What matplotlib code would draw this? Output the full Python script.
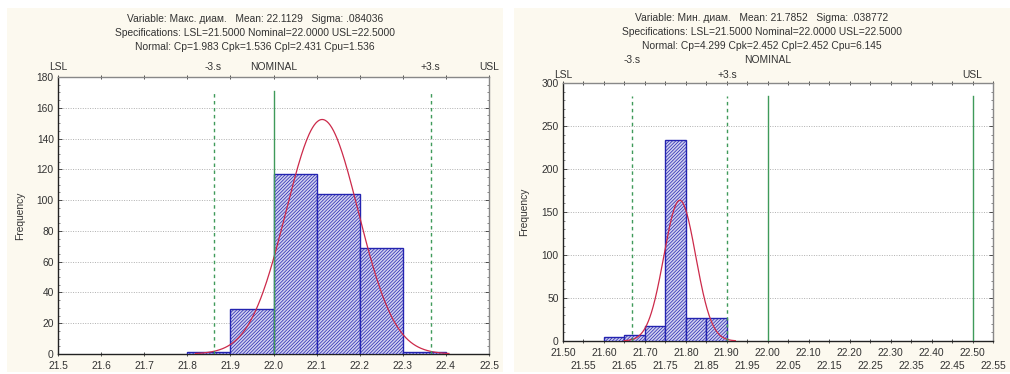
import numpy as np
import matplotlib
matplotlib.use("Agg")
import matplotlib.pyplot as plt
from matplotlib.patches import Rectangle
import matplotlib.transforms as mtransforms

plt.rcParams['font.family'] = ['Liberation Sans', 'DejaVu Sans']
plt.rcParams['hatch.linewidth'] = 0.5
plt.rcParams['hatch.color'] = '#2a2a9a'

# ---------------- data ----------------
# Left chart: Макс. диам.
left_bin_edges = [21.8, 21.9, 22.0, 22.1, 22.2, 22.3, 22.4]
left_counts = [1, 29, 117, 104, 69, 1]
left_mean = 22.1129
left_sigma = 0.084036
left_title = ["Variable: Макс. диам.   Mean: 22.1129   Sigma: .084036",
              "Specifications: LSL=21.5000 Nominal=22.0000 USL=22.5000",
              "Normal: Cp=1.983 Cpk=1.536 Cpl=2.431 Cpu=1.536"]
left_xticks = [21.5, 21.6, 21.7, 21.8, 21.9, 22.0, 22.1, 22.2, 22.3, 22.4, 22.5]
left_yticks = [0, 20, 40, 60, 80, 100, 120, 140, 160, 180]

# Right chart: Мин. диам.
right_bin_edges = [21.60, 21.65, 21.70, 21.75, 21.80, 21.85, 21.90]
right_counts = [5, 7, 18, 234, 27, 27]
right_mean = 21.7852
right_sigma = 0.038772
right_title = ["Variable: Мин. диам.   Mean: 21.7852   Sigma: .038772",
               "Specifications: LSL=21.5000 Nominal=22.0000 USL=22.5000",
               "Normal: Cp=4.299 Cpk=2.452 Cpl=2.452 Cpu=6.145"]
right_xticks_row1 = [21.50, 21.60, 21.70, 21.80, 21.90, 22.00, 22.10, 22.20, 22.30, 22.40, 22.50]
right_xticks_row2 = [21.55, 21.65, 21.75, 21.85, 21.95, 22.05, 22.15, 22.25, 22.35, 22.45, 22.55]
right_yticks = [0, 50, 100, 150, 200, 250, 300]

LSL, NOMINAL, USL = 21.5, 22.0, 22.5

# ---------------- figure ----------------
W, H = 1010, 374
fig = plt.figure(figsize=(W / 100, H / 100), dpi=100, facecolor='white')

BG = '#fcf9ef'
TXT = '#333333'
GREEN = '#3f9a5a'
RED = '#cc2a4a'
EDGE = '#2424b0'
FACE = '#cfcfee'
FS = 7.4


def px_rect(x0, y0, x1, y1):
    return [x0 / W, 1 - y1 / H, (x1 - x0) / W, (y1 - y0) / H]


# panel backgrounds
for (x0, x1) in [(7, 503), (514, 1010)]:
    r = px_rect(x0, 8, x1, 372)
    fig.patches.append(Rectangle((r[0], r[1]), r[2], r[3], transform=fig.transFigure,
                                 facecolor=BG, edgecolor='none', zorder=-10))


def draw(ax, edges, counts, mean, sigma, ymax, yticks, ymin_minor, xlim,
         title_lines, title_cx, title_ys, label_rows, ylabel_x):
    ax.set_facecolor('white')
    widths = np.diff(edges)
    ax.bar(edges[:-1], counts, width=widths, align='edge', facecolor=FACE,
           edgecolor=EDGE, linewidth=1.0, hatch='//////////', zorder=3)
    # normal curve
    xs = np.linspace(mean - 3.5 * sigma, mean + 3.5 * sigma, 300)
    n = sum(counts)
    bw = widths[0]
    ys = n * bw / (sigma * np.sqrt(2 * np.pi)) * np.exp(-0.5 * ((xs - mean) / sigma) ** 2)
    ax.plot(xs, ys, color=RED, lw=0.9, zorder=4)
    # spec lines (those on the frame edges are hidden by the frame)
    top = 0.95 * ymax
    for v, ls in [(mean - 3 * sigma, (0, (2.5, 2.5))), (mean + 3 * sigma, (0, (2.5, 2.5))),
                  (NOMINAL, '-'), (USL, '-'), (LSL, '-')]:
        if abs(v - xlim[0]) < 1e-9 or abs(v - xlim[1]) < 1e-9:
            continue
        ax.plot([v, v], [0, top], color=GREEN, lw=1.0, linestyle=ls, zorder=5)
    ax.set_xlim(*xlim)
    ax.set_ylim(0, ymax)
    ax.set_yticks(yticks)
    ax.set_yticks(np.arange(0, ymax + 0.001, ymin_minor), minor=True)
    ax.yaxis.grid(True, which='major', color='#b0b0b0', linestyle=(0, (1, 1.5)), lw=0.7)
    ax.set_axisbelow(True)
    ax.tick_params(axis='y', which='major', direction='in', length=3, left=True, right=True,
                   labelsize=FS, colors=TXT, pad=3, width=0.6)
    ax.tick_params(axis='y', which='minor', direction='in', length=1.5, left=True, right=True,
                   width=0.5, color='#555555')
    for s in ['left', 'bottom']:
        ax.spines[s].set_color('#222222')
        ax.spines[s].set_linewidth(1.0)
    for s in ['top', 'right']:
        ax.spines[s].set_color('#888888')
        ax.spines[s].set_linewidth(1.0)
    # titles
    for line, y in zip(title_lines, title_ys):
        fig.text(title_cx / W, 1 - y / H, line, ha='center', va='center', fontsize=FS,
                 color=TXT)
    # spec labels above plot
    trans = mtransforms.blended_transform_factory(ax.transData, fig.transFigure)
    for (x, txt, y) in label_rows:
        ax.text(x, 1 - y / H, txt, transform=trans, ha='center', va='center',
                fontsize=FS, color=TXT, clip_on=False)
    pos = ax.get_position()
    fig.text(ylabel_x / W, (pos.y0 + pos.y1) / 2, 'Frequency',
             rotation=90, ha='center', va='center', fontsize=FS, color=TXT)


axL = fig.add_axes(px_rect(58, 77, 489, 354))
draw(axL, left_bin_edges, left_counts, left_mean, left_sigma, 180, left_yticks, 5,
     (21.5, 22.5), left_title, 255, [19, 33, 47],
     [(LSL, 'LSL', 67), (left_mean - 3 * left_sigma, '-3.s', 67), (NOMINAL, 'NOMINAL', 67),
      (left_mean + 3 * left_sigma, '+3.s', 67), (USL, 'USL', 67)], 20)
axL.set_xticks(left_xticks)
axL.set_xticklabels([f"{v:.1f}" for v in left_xticks])
axL.tick_params(axis='x', which='major', direction='inout', length=3, top=True,
                bottom=True, labelsize=FS, colors=TXT, pad=3.5, width=0.6)

axR = fig.add_axes(px_rect(563, 83, 993, 341))
draw(axR, right_bin_edges, right_counts, right_mean, right_sigma, 300, right_yticks, 10,
     (21.5, 22.55), right_title, 762, [18, 32, 46],
     [(right_mean - 3 * right_sigma, '-3.s', 60), (NOMINAL, 'NOMINAL', 60),
      (LSL, 'LSL', 75), (right_mean + 3 * right_sigma, '+3.s', 75), (USL, 'USL', 75)], 524)
axR.set_xticks(right_xticks_row1)
axR.set_xticklabels([f"{v:.2f}" for v in right_xticks_row1])
axR.set_xticks(right_xticks_row2, minor=True)
axR.set_xticklabels([f"{v:.2f}" for v in right_xticks_row2], minor=True)
axR.tick_params(axis='x', which='major', direction='inout', length=3, top=True,
                bottom=True, labelsize=FS, colors=TXT, pad=3.5, width=0.6)
axR.tick_params(axis='x', which='minor', direction='inout', length=3, top=True,
                bottom=True, labelsize=FS, colors=TXT, pad=13, width=0.6)

fig.savefig('out.png', dpi=100, facecolor='white')
